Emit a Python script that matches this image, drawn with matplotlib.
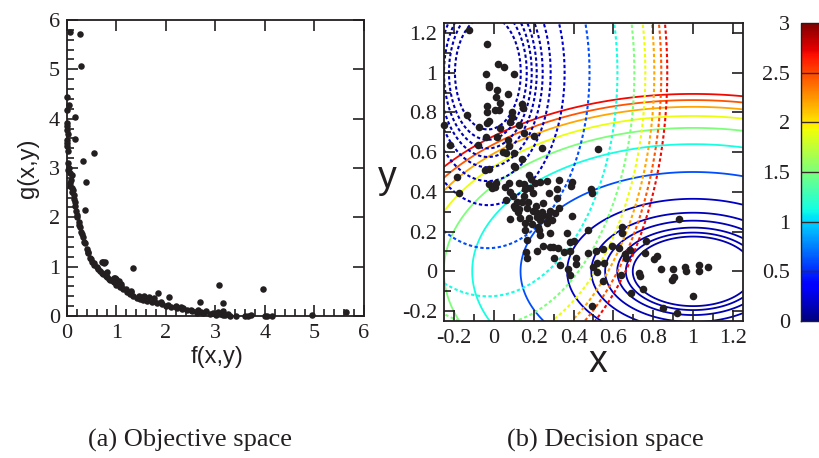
import numpy as np
import matplotlib
matplotlib.use('Agg')
import matplotlib.pyplot as plt
from matplotlib.colors import Normalize
from matplotlib.ticker import MultipleLocator, FuncFormatter

# (a) objective space: f(x,y), g(x,y) of the sampled points
f_vals = [0.07, 0.26, 0.29, 0.01, 0.05, 0.00, 0.16, 0.00, 0.00, 0.00, 0.16, 0.00, 0.03, 0.33,
          0.54, 0.07, 0.10, 0.39, 0.06, 0.07, 0.10, 0.10, 0.16, 0.17, 0.36,
          0.00, 0.02, 0.01, 0.03, 0.05, 0.02, 0.08, 0.12, 0.14, 0.15,
          0.18, 0.21, 0.24, 0.26, 0.28, 0.32, 0.36, 0.40, 0.43, 0.47, 0.50, 0.55, 0.60, 0.67,
          0.73, 0.80, 0.87, 0.94, 1.00, 1.07, 1.14, 1.21, 1.27, 1.34, 1.41, 1.48, 1.54, 1.61,
          1.71, 1.81, 1.91, 2.01, 2.11, 2.22, 2.32, 2.42, 2.52, 2.62, 2.75, 2.89, 3.02, 3.16, 3.29,
          0.20, 0.25, 0.30, 0.35, 0.42, 0.48, 0.55, 0.62, 0.70, 0.78, 0.85, 0.92, 1.00, 1.10,
          1.20, 1.30, 1.45, 1.60, 1.75, 1.90, 2.05, 2.20, 2.35, 2.50, 2.70, 2.95, 3.10, 3.20,
          0.70, 0.75, 0.80, 0.95, 1.00, 1.05, 1.10, 1.30, 1.55, 1.65, 1.75, 2.20, 2.30, 2.65,
          2.80, 3.05, 3.15, 3.25,
          0.72, 0.76, 0.97, 1.33, 1.84, 2.06, 2.69, 3.07, 3.16, 3.95, 4.94, 5.64, 3.42, 3.59,
          3.65, 3.72, 4.00, 4.15, 4.05]
g_vals = [5.75, 5.72, 5.06, 4.43, 4.28, 4.18, 4.03, 3.85, 3.78, 3.57, 3.58, 3.44, 3.11, 3.14,
          3.31, 2.89, 2.85, 2.72, 2.70, 2.63, 2.60, 2.52, 2.32, 2.22, 2.14,
          3.92, 3.68, 3.50, 3.35, 3.00, 2.95, 2.75, 2.56, 2.45, 2.38,
          2.12, 2.01, 1.91, 1.81, 1.71, 1.61, 1.47, 1.35, 1.27, 1.17, 1.10, 1.07, 1.00, 0.92,
          0.85, 0.79, 0.73, 0.68, 0.63, 0.58, 0.54, 0.49, 0.45, 0.41, 0.37, 0.35, 0.33, 0.30,
          0.28, 0.27, 0.24, 0.20, 0.18, 0.16, 0.14, 0.12, 0.10, 0.07, 0.06, 0.05, 0.03, 0.02, 0.01,
          2.05, 1.85, 1.66, 1.50, 1.30, 1.15, 1.03, 0.95, 0.88, 0.82, 0.76, 0.71, 0.66, 0.60,
          0.54, 0.48, 0.40, 0.34, 0.30, 0.28, 0.22, 0.19, 0.16, 0.12, 0.09, 0.06, 0.05, 0.03,
          1.10, 1.08, 0.90, 0.78, 0.75, 0.70, 0.65, 0.50, 0.40, 0.38, 0.36, 0.20, 0.18, 0.12,
          0.10, 0.08, 0.10, 0.04,
          1.09, 1.10, 0.78, 0.97, 0.47, 0.39, 0.28, 0.62, 0.26, 0.55, 0.02, 0.09, 0.00, 0.00,
          0.01, 0.02, 0.01, 0.00, 0.00]

# (b) decision space: x, y of the same population
x_vals = [-0.123, -0.036, 0.023, 0.053, -0.039, 0.101, -0.023, -0.026, 0.014, 0.009, 0.073, 0.031,
          -0.036, 0.140, 0.145, -0.036, 0.006, 0.028, 0.093, 0.090, -0.136, -0.023, 0.081, -0.073,
          -0.036, 0.126, -0.248, 0.031, -0.039, 0.014, 0.153, 0.202, 0.073, -0.078, 0.078, 0.048,
          0.101, -0.220, 0.243, 0.521, 0.061, 0.140, 0.101, 0.106, -0.044, -0.023, -0.185, 0.178,
          0.186, 0.011, -0.023, 0.006, -0.008, 0.056, 0.078, 0.126, 0.153, 0.181, 0.207, 0.232,
          0.265, 0.329, 0.391, 0.388, 0.156, 0.081, 0.095, -0.173, 0.115, 0.106, 0.140, 0.198,
          0.248, 0.277, 0.315, 0.486, 0.490, 0.315, 0.128, 0.165, 0.198, 0.215, 0.248, 0.282,
          0.329, 0.307, 0.391, 0.081, 0.131, 0.178, 0.215, 0.267, 0.220, 0.265, 0.156, 0.228,
          0.156, 0.231, 0.282, 0.165, 0.248, 0.282, 0.295, 0.320, 0.365, 0.382, 0.402, 0.471,
          0.354, 0.382, 0.161, 0.165, 0.215, 0.304, 0.332, 0.412, 0.412, 0.374, 0.382, 0.474,
          0.511, 0.550, 0.595, 0.630, 0.641, 0.645, 0.496, 0.516, 0.555, 0.520, 0.546, 0.636,
          0.661, 0.658, 0.683, 0.730, 0.733, 0.747, 0.687, 0.763, 0.758, 0.804, 0.821, 0.839,
          0.897, 0.892, 0.903, 0.958, 0.966, 1.029, 1.031, 1.073, 0.929, 0.998, 0.847, 0.917,
          0.491, 0.060, 0.100, 0.120, 0.170, 0.210, 0.240, 0.190, 0.230, 0.270, 0.150, 0.290]
y_vals = [1.215, 1.143, 1.042, 1.030, 0.993, 0.993, 0.938, 0.926, 0.913, 0.879, 0.891, 0.846,
          0.832, 0.842, 0.820, 0.804, 0.812, 0.812, 0.804, 0.779, 0.785, 0.758, 0.753, 0.728,
          0.745, 0.737, 0.737, 0.723, 0.678, 0.678, 0.695, 0.681, 0.661, 0.636, 0.633, 0.603,
          0.594, 0.636, 0.623, 0.616, 0.598, 0.566, 0.532, 0.524, 0.510, 0.515, 0.475, 0.485,
          0.465, 0.446, 0.438, 0.426, 0.418, 0.426, 0.443, 0.446, 0.440, 0.418, 0.446, 0.451,
          0.456, 0.460, 0.451, 0.430, 0.414, 0.401, 0.379, 0.393, 0.351, 0.317, 0.351, 0.393,
          0.342, 0.393, 0.413, 0.413, 0.393, 0.368, 0.312, 0.317, 0.305, 0.292, 0.284, 0.305,
          0.317, 0.292, 0.279, 0.264, 0.267, 0.267, 0.272, 0.250, 0.225, 0.242, 0.242, 0.208,
          0.208, 0.183, 0.191, 0.158, 0.128, 0.124, 0.121, 0.116, 0.191, 0.150, 0.155, 0.208,
          0.099, 0.104, 0.099, 0.066, 0.104, 0.066, 0.032, 0.066, 0.036, 0.011, -0.020, 0.091,
          0.104, 0.111, 0.128, 0.116, 0.191, 0.225, 0.024, 0.041, 0.041, -0.001, -0.047, -0.018,
          0.066, 0.087, 0.107, -0.010, -0.022, -0.089, -0.107, 0.155, 0.091, 0.061, 0.077, 0.010,
          0.010, -0.043, -0.027, 0.020, 0.003, 0.032, 0.003, 0.020, 0.264, -0.122, -0.186, -0.211,
          -0.177, 0.360, 0.330, 0.300, 0.350, 0.330, 0.300, 0.240, 0.260, 0.280, 0.380, 0.260]

# contour levels (elliptic radius) and the colour-scale value of each line
f_levels = [0.175, 0.195, 0.22, 0.255, 0.295, 0.365, 0.50, 0.64, 0.722, 0.782, 0.828, 0.862, 0.893]
f_colour_vals = [0.12, 0.13, 0.14, 0.15, 0.16, 0.18, 0.6, 1.13, 1.5, 1.9, 2.2, 2.45, 2.7]
g_levels = [0.165, 0.195, 0.22, 0.245, 0.275, 0.315, 0.385, 0.51, 0.65, 0.735, 0.79, 0.835, 0.87, 0.9]
g_colour_vals = [0.12, 0.13, 0.14, 0.15, 0.16, 0.17, 0.2, 0.6, 1.13, 1.5, 1.9, 2.2, 2.45, 2.7]
g_centre = (-0.03, 1.0)

cbar_ticks = [0, 0.5, 1, 1.5, 2, 2.5, 3]

plt.rcParams['axes.unicode_minus'] = False
ink = '#231f20'
serif = 'Liberation Serif'
sans = 'Liberation Sans'
W, H = 820, 458

fig = plt.figure(figsize=(8.2, 4.58), dpi=100)


def box(x0, y0, x1, y1):
    return [x0 / W, 1 - y1 / H, (x1 - x0) / W, (y1 - y0) / H]


ax1 = fig.add_axes(box(67, 20, 364, 316))
ax2 = fig.add_axes(box(444, 23, 743, 321))
cax = fig.add_axes(box(801, 23, 830, 321))

fmt = FuncFormatter(lambda v, _: '%g' % (round(v, 3) + 0.0))


def style(ax, major, minor):
    for axis in (ax.xaxis, ax.yaxis):
        axis.set_major_locator(MultipleLocator(major))
        axis.set_minor_locator(MultipleLocator(minor))
        axis.set_major_formatter(fmt)
    ax.tick_params(which='both', direction='in', top=True, right=True, color=ink,
                   width=1.2, labelsize=16, labelcolor=ink)
    ax.tick_params(which='major', length=8)
    ax.tick_params(which='minor', length=5, top=False, right=False)
    ax.tick_params(axis='x', pad=6)
    ax.tick_params(axis='y', pad=5)
    for lab in ax.get_xticklabels() + ax.get_yticklabels():
        lab.set_family(serif)
    for sp in ax.spines.values():
        sp.set_linewidth(1.3)
        sp.set_color(ink)


# (a) objective space
ax1.scatter(f_vals, g_vals, s=22, color=ink, linewidths=0, zorder=3, clip_on=False)
ax1.set_xlim(0, 6)
ax1.set_ylim(0, 6)
style(ax1, 1, 0.2)

# (b) decision space with contours of both objectives
cmap = plt.get_cmap('jet')
norm = Normalize(0, 3)
gx = np.linspace(-0.3, 1.3, 600)
X, Y = np.meshgrid(gx, gx)
F = np.sqrt((X - 1) ** 2 / 3 + Y ** 2)
G = np.sqrt((X - g_centre[0]) ** 2 + (Y - g_centre[1]) ** 2 / 3)
ax2.contour(X, Y, F, levels=f_levels, colors=[cmap(norm(v)) for v in f_colour_vals],
            linewidths=1.3, linestyles='solid', zorder=1)
ax2.contour(X, Y, G, levels=g_levels, colors=[cmap(norm(v)) for v in g_colour_vals],
            linewidths=1.5, linestyles=[(0, (1.6, 1.2))] * len(g_levels), zorder=1)
ax2.scatter(x_vals, y_vals, s=30, color=ink, linewidths=0, zorder=3, clip_on=False)
ax2.set_xlim(-0.25, 1.25)
ax2.set_ylim(-0.25, 1.25)
style(ax2, 0.2, 0.1)

# colour bar
sm = plt.cm.ScalarMappable(norm=norm, cmap=cmap)
cb = fig.colorbar(sm, cax=cax)
cb.set_ticks(cbar_ticks)
cb.ax.yaxis.set_major_formatter(fmt)
cax.yaxis.set_ticks_position('left')
cax.tick_params(length=0, pad=8, labelsize=16, labelcolor=ink)
for lab in cax.get_yticklabels():
    lab.set_family(serif)
for v in cbar_ticks[1:-1]:
    cax.axhline(v, color='#3a2a2a', lw=1.0)
cb.outline.set_edgecolor(ink)
cb.outline.set_linewidth(1.0)

# axis titles and captions
fig.text(217 / W, 1 - 357 / H, 'f(x,y)', ha='center', va='center', size=17, family=sans, color=ink)
fig.text(28 / W, 1 - 168 / H, 'g(x,y)', ha='center', va='center', size=17, family=sans,
         rotation=90, color=ink)
fig.text(598 / W, 1 - 372 / H, 'x', ha='center', va='baseline', size=27, family=sans, color=ink)
fig.text(387 / W, 1 - 178 / H, 'y', ha='center', va='center', size=27, family=sans, color=ink)
fig.text(190 / W, 1 - 440 / H, '(a) Objective space', ha='center', va='center', size=19,
         family=serif, color=ink)
fig.text(605 / W, 1 - 440 / H, '(b) Decision space', ha='center', va='center', size=19,
         family=serif, color=ink)

fig.savefig('out.png', dpi=100)
